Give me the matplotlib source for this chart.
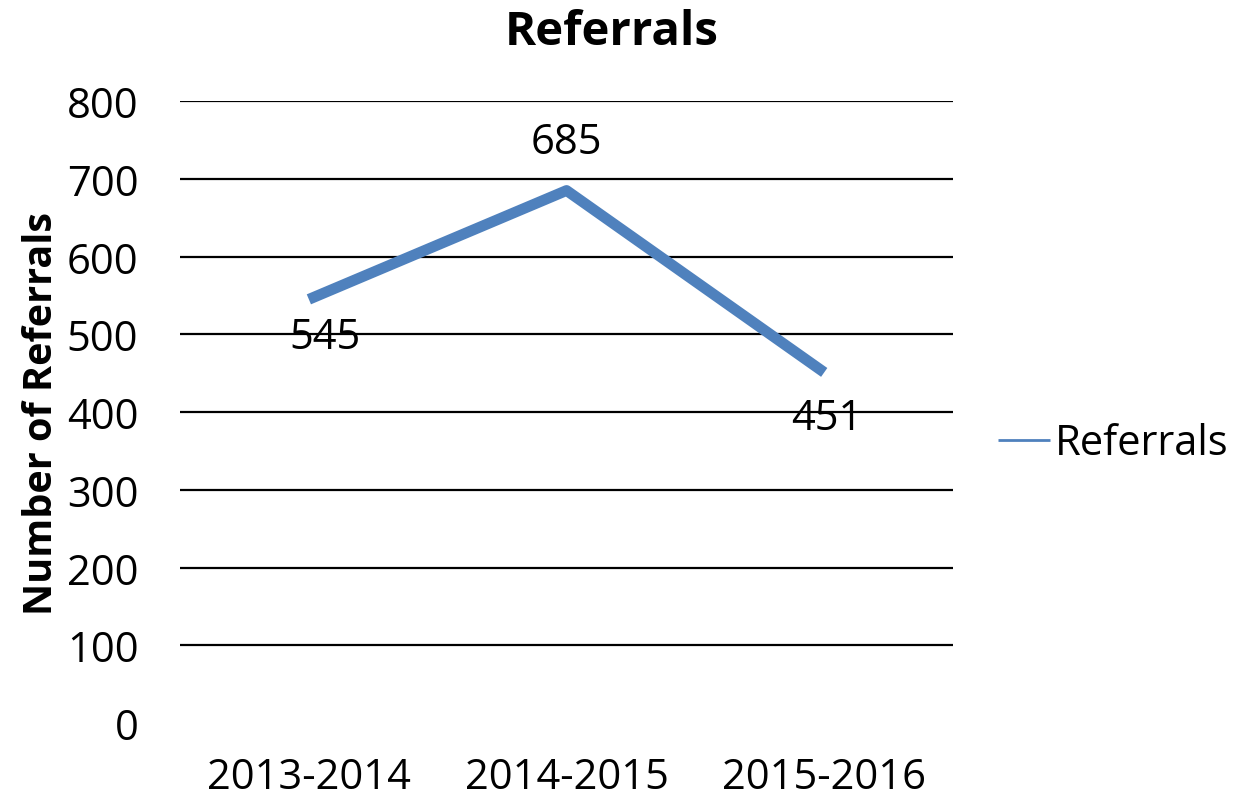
import matplotlib.pyplot as plt

# data
years = ['2013-2014', '2014-2015', '2015-2016']
referrals = [545, 685, 451]
yticks = [0, 100, 200, 300, 400, 500, 600, 700, 800]

plt.rcParams['font.family'] = ['Open Sans', 'DejaVu Sans']

fig = plt.figure(figsize=(12.45, 8.04), dpi=100)
ax = fig.add_axes([0.1446, 0.0995, 0.6209, 0.7735])

x = range(len(years))
ax.plot(x, referrals, color='#4F81BD', linewidth=7.8, solid_capstyle='butt',
        label='Referrals', zorder=3)

ax.set_xlim(-0.5, 2.5)
ax.set_ylim(0, 800)
ax.set_yticks(yticks)
ax.set_xticks(list(x))
ax.set_xticklabels(years)
ax.tick_params(axis='both', length=0, labelsize=30)
ax.tick_params(axis='x', pad=24)
ax.tick_params(axis='y', pad=30)

for yv in yticks[1:]:
    ax.axhline(yv, color='black', linewidth=1.6, zorder=1)
for s in ax.spines.values():
    s.set_visible(False)

# data labels
offsets = [(16, -38), (0, 49), (3, -46)]
for xi, v, (dx, dy) in zip(x, referrals, offsets):
    ax.annotate(str(v), (xi, v), xytext=(dx, dy), textcoords='offset pixels',
                ha='center', va='center', fontsize=30)

ax.set_ylabel('Number of Referrals', fontsize=28.5, fontweight='bold', labelpad=4)
ax.set_title('Referrals', fontsize=34, fontweight='bold', pad=41, x=0.558)

leg = ax.legend(loc='center left', bbox_to_anchor=(1.009, 0.45), frameon=False,
                fontsize=30, handlelength=1.25, handletextpad=0.12)
for h in leg.get_lines():
    h.set_linewidth(2)

fig.savefig('out.png', dpi=100)
